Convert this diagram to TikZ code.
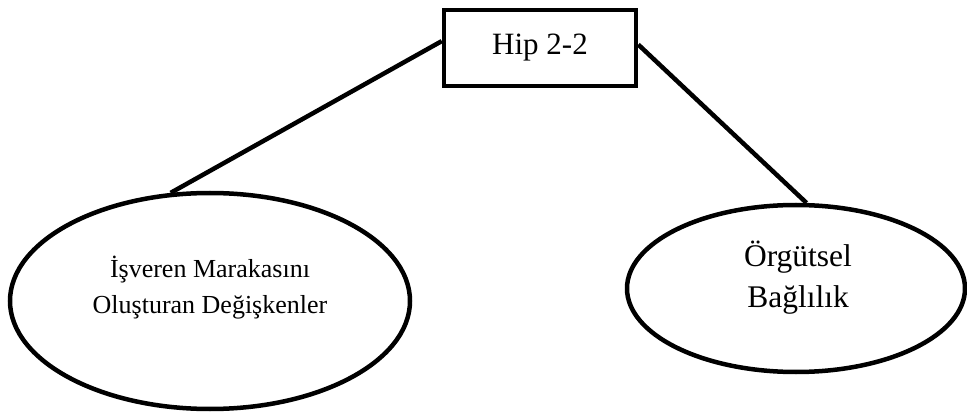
\documentclass[tikz,border=0pt]{standalone}
\usepackage{fontspec}
\setmainfont{Liberation Serif}
\usetikzlibrary{shapes.geometric}
\begin{document}
\begin{tikzpicture}[x=1pt,y=1pt,
  thick line/.style={line width=4.5pt},
  boxnode/.style={draw,thick line,rectangle,minimum width=192pt,minimum height=76pt,inner sep=0pt,font=\fontsize{31}{37}\selectfont},
  ellnode/.style={draw,thick line,ellipse,inner sep=0pt},
  conn/.style={thick line}]
\useasboundingbox (0,0) rectangle (967,-414);
\node[boxnode] (hip) at (540,-48) {Hip 2-2};
\node[ellnode,minimum width=400pt,minimum height=216pt] (L) at (210,-301) {};
\node[ellnode,minimum width=338pt,minimum height=167pt] (R) at (796,-288.5) {};
\node[align=center,font=\fontsize{26}{36}\selectfont,inner sep=0pt] (Ltext) at (210,-288) {İşveren Marakasını\\Oluşturan Değişkenler};
\node[align=center,font=\fontsize{31.5}{41}\selectfont,inner sep=0pt] (Rtext) at (798,-278) {Örgütsel\\Bağlılık};
\draw[conn] (hip.176) -- (L.110);
\draw[conn] (hip.2) -- (R.83);
\end{tikzpicture}
\end{document}
